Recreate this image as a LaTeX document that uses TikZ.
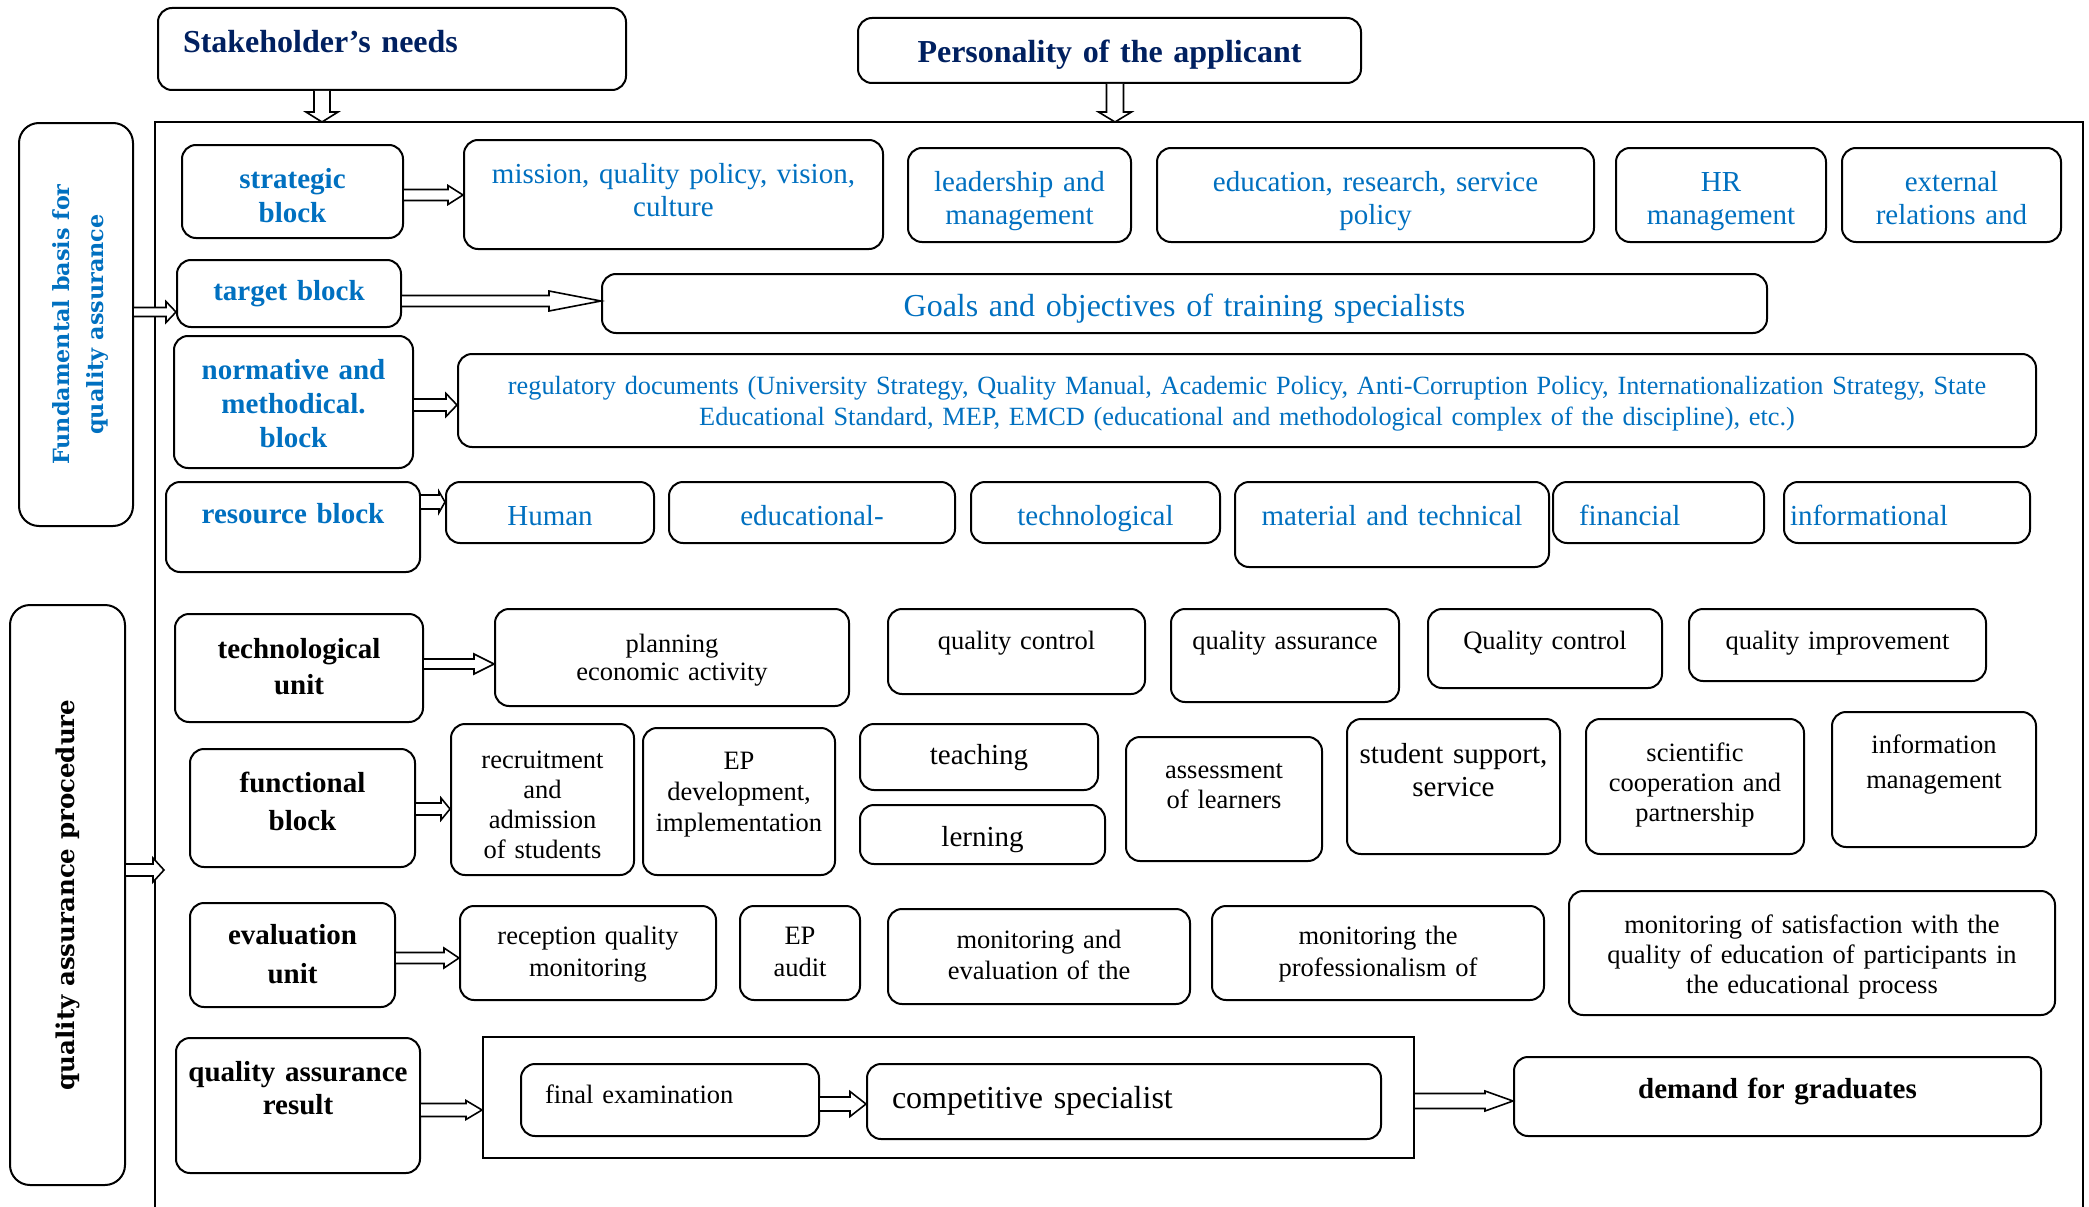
\documentclass[tikz,border=0pt]{standalone}
\usepackage{fontspec}
\setmainfont{Liberation Serif}
\newfontfamily\sidefont{DejaVu Serif}
\usetikzlibrary{calc}
\definecolor{qblue}{HTML}{0070C0}
\definecolor{qnavy}{HTML}{002060}

\tikzset{
  box/.style={draw, line width=2pt, rounded corners=14pt, fill=white},
  bluetext/.style={text=qblue, font=\fontsize{29}{33}\selectfont},
  bluebold/.style={text=qblue, font=\fontsize{29}{34}\selectfont\bfseries},
  blacktext/.style={font=\fontsize{26.5}{30}\selectfont},
  blackbold/.style={font=\fontsize{29}{36}\selectfont\bfseries},
  titletext/.style={text=qnavy, font=\fontsize{32}{38}\selectfont\bfseries},
  sidetext/.style={font=\sidefont\bfseries\fontsize{22.3}{34}\selectfont},
  blockarrow/.style={draw, line width=1.6pt, fill=white, line join=miter},
  frame/.style={draw, line width=2pt},
}

% rounded box given by its corners and the baseline of its first text line
\newcommand\rbox[8][]{%
  \pgfmathsetmacro\rbt{#7-#4}%
  \pgfmathsetmacro\rbd{#6-#7}%
  \pgfmathsetmacro\rbtw{#5-#3-12}%
  \node[box, anchor=north west, inner xsep=6pt, inner ysep=0pt, align=center,
        text width=\rbtw pt, text height=\rbt pt, text depth=\rbd pt, #1] (#2) at (#3,#4) {#8};%
}

% hollow block arrow, left to right: source, target, row, shaft half-width, head half-width, head length
\newcommand\harrow[6]{%
  \coordinate (hs) at (#1 |- 0,#3);
  \coordinate (ht) at (#2 |- 0,#3);
  \draw[blockarrow] ($(hs)+(0,-#4)$) -- ($(ht)+(-#6,-#4)$) -- ($(ht)+(-#6,-#5)$) -- (ht)
    -- ($(ht)+(-#6,#5)$) -- ($(ht)+(-#6,#4)$) -- ($(hs)+(0,#4)$);
}
% hollow block arrow, top to bottom: source, target, column, shaft half-width, head half-width, head length
\newcommand\varrow[6]{%
  \coordinate (vs) at (#3,0 |- #1);
  \coordinate (vt) at (#3,0 |- #2);
  \draw[blockarrow] ($(vs)+(-#4,0)$) -- ($(vt)+(-#4,-#6)$) -- ($(vt)+(-#5,-#6)$) -- (vt)
    -- ($(vt)+(#5,-#6)$) -- ($(vt)+(#4,-#6)$) -- ($(vs)+(#4,0)$);
}

\begin{document}
\begin{tikzpicture}[x=1pt,y=-1pt]
\useasboundingbox (0,0) rectangle (2089,1207);

% outer frame, open at the bottom
\coordinate (fnw) at (155,122);
\coordinate (fne) at (2083,122);
\coordinate (fsw) at (155,1207);
\coordinate (fse) at (2083,1207);
\draw[frame] (fsw) -- (fnw) -- (fne) -- (fse);

% inputs
\rbox[titletext, align=left]{stake}{157}{7}{625}{89}{52}{\hspace*{19pt}Stakeholder’s needs}
\rbox[titletext]{pers}{857}{17}{1360}{82}{62}{Personality of the applicant}

% side labels
\node[box, rounded corners=20pt, anchor=north west, inner sep=0pt,
      minimum width=114pt, minimum height=403pt, text=qblue, sidetext] (fund) at (18,122)
  {\hspace{8pt}\rotatebox{90}{\begin{tabular}{@{}c@{}}Fundamental basis for\\quality assurance\end{tabular}}};
\node[box, rounded corners=20pt, anchor=north west, inner sep=0pt,
      minimum width=115pt, minimum height=580pt, sidetext, font=\sidefont\bfseries\fontsize{24.5}{34}\selectfont] (proc) at (9,604)
  {\rotatebox{90}{quality assurance procedure}\hspace{20pt}};

% strategic block
\rbox[bluebold]{strat}{181}{144}{402}{237}{187}{strategic\\block}
\rbox[bluetext]{miss}{463}{139}{882}{248}{182}{mission, quality policy, vision,\\culture}
\rbox[bluetext]{lead}{907}{147}{1130}{241}{190}{leadership and\\management}
\rbox[bluetext]{edu}{1156}{147}{1593}{241}{190}{education, research, service\\policy}
\rbox[bluetext]{hr}{1615}{147}{1825}{241}{190}{HR\\management}
\rbox[bluetext]{ext}{1841}{147}{2060}{241}{190}{external\\relations and}

% target block
\rbox[bluebold]{targ}{176}{259}{400}{326}{299}{target block}
\rbox[bluetext, font=\fontsize{32}{36}\selectfont]{goals}{601}{273}{1766}{332}{315}{Goals and objectives of training specialists}

% normative and methodical block
\rbox[bluebold]{norm}{173}{335}{412}{467}{378}{normative and\\methodical.\\block}
\rbox[bluetext, font=\fontsize{26.3}{31}\selectfont]{reg}{457}{353}{2035}{446}{393}{regulatory documents (University Strategy, Quality Manual, Academic Policy, Anti-Corruption Policy, Internationalization Strategy, State\\Educational Standard, MEP, EMCD (educational and methodological complex of the discipline), etc.)}

% resource block
\rbox[bluebold]{res}{165}{481}{419}{571}{522}{resource block}
\rbox[bluetext]{hum}{445}{481}{653}{542}{524}{Human}
\rbox[bluetext]{edr}{668}{481}{954}{542}{524}{educational-}
\rbox[bluetext]{tec}{970}{481}{1219}{542}{524}{technological}
\rbox[bluetext]{mat}{1234}{481}{1548}{566}{524}{material and technical}
\rbox[bluetext, align=left]{fin}{1552}{481}{1763}{542}{524}{\hspace*{20pt}financial}
\rbox[bluetext, align=left]{inf}{1783}{481}{2029}{542}{524}{informational}

% technological unit
\rbox[blackbold]{tu}{174}{613}{422}{721}{657}{technological\\unit}
\rbox[blacktext, font=\fontsize{26.5}{28}\selectfont]{plan}{494}{608}{848}{705}{651}{planning\\economic activity}
\rbox[blacktext]{qc1}{887}{608}{1144}{693}{648}{quality control}
\rbox[blacktext]{qa}{1170}{608}{1398}{701}{648}{quality assurance}
\rbox[blacktext]{qc2}{1427}{608}{1661}{687}{648}{Quality control}
\rbox[blacktext]{qi}{1688}{608}{1985}{680}{648}{quality improvement}

% functional block
\rbox[blackbold, font=\fontsize{29}{38}\selectfont\bfseries]{fb}{189}{748}{414}{866}{791}{functional\\block}
\rbox[blacktext]{rec}{450}{723}{633}{874}{767}{recruitment\\and\\admission\\of students}
\rbox[blacktext, font=\fontsize{26.5}{31}\selectfont]{epd}{642}{727}{834}{874}{768}{EP\\development,\\implementation}
\rbox[blacktext, font=\fontsize{29}{33}\selectfont]{teach}{859}{723}{1097}{789}{763}{teaching}
\rbox[blacktext, font=\fontsize{29}{33}\selectfont]{lern}{859}{804}{1104}{863}{845}{lerning}
\rbox[blacktext]{ass}{1125}{736}{1321}{860}{777}{assessment\\of learners}
\rbox[blacktext, font=\fontsize{29}{33}\selectfont]{ss}{1346}{718}{1559}{853}{762}{student support,\\service}
\rbox[blacktext]{sci}{1585}{718}{1803}{853}{760}{scientific\\cooperation and\\partnership}
\rbox[blacktext, font=\fontsize{26.5}{35}\selectfont]{im}{1831}{711}{2035}{846}{752}{information\\management}

% evaluation unit
\rbox[blackbold, font=\fontsize{29}{39}\selectfont\bfseries]{eu}{189}{902}{394}{1006}{943}{evaluation\\unit}
\rbox[blacktext, font=\fontsize{26.5}{32}\selectfont]{rqm}{459}{905}{715}{999}{943}{reception quality\\monitoring}
\rbox[blacktext, font=\fontsize{26.5}{32}\selectfont]{epa}{739}{905}{859}{999}{943}{EP\\audit}
\rbox[blacktext, font=\fontsize{26.5}{31}\selectfont]{mae}{887}{908}{1189}{1003}{947}{monitoring and\\evaluation of the}
\rbox[blacktext, font=\fontsize{26.5}{32}\selectfont]{mpro}{1211}{905}{1543}{999}{943}{monitoring the\\professionalism of}
\rbox[blacktext]{msat}{1568}{890}{2054}{1014}{932}{monitoring of satisfaction with the\\quality of education of participants in\\the educational process}

% result
\rbox[blackbold, font=\fontsize{29}{33}\selectfont\bfseries]{qar}{175}{1037}{419}{1172}{1080}{quality assurance\\result}
\node[draw, line width=2pt, fill=white, anchor=north west, inner sep=0pt,
      minimum width=931pt, minimum height=121pt] (bigr) at (482,1036) {};
\rbox[blacktext, align=left]{fe}{520}{1063}{818}{1135}{1102}{\hspace*{18pt}final examination}
\rbox[blacktext, font=\fontsize{32}{36}\selectfont, align=left]{cs}{866}{1063}{1380}{1138}{1107}{\hspace*{19pt}competitive specialist}
\rbox[blackbold]{dg}{1513}{1056}{2040}{1135}{1097}{demand for graduates}

% connectors
\varrow{stake.south}{fnw}{322}{8}{16}{10}
\varrow{pers.south}{fnw}{1115}{8.5}{16.5}{10}
\harrow{fund.east}{targ.west}{312}{4.5}{10.5}{10}
\harrow{strat.east}{miss.west}{195}{5.5}{9.5}{15}
\harrow{targ.east}{goals.west}{301}{5.5}{10}{52}
\harrow{norm.east}{reg.west}{405}{6}{11.5}{11}
\harrow{res.east}{hum.west}{502}{7}{10.5}{6}
\coordinate (procin) at (164,870);
\harrow{proc.east}{procin}{870}{6}{12}{11}
\harrow{tu.east}{plan.west}{664}{5}{10}{20}
\harrow{fb.east}{rec.west}{809}{6}{11}{9}
\harrow{eu.east}{rqm.west}{958}{5.5}{10}{15}
\harrow{qar.east}{bigr.west}{1110}{6.5}{9.5}{16}
\harrow{fe.east}{cs.west}{1104}{7}{12.5}{16}
\harrow{bigr.east}{dg.west}{1101}{7.5}{10}{28}
\end{tikzpicture}
\end{document}
